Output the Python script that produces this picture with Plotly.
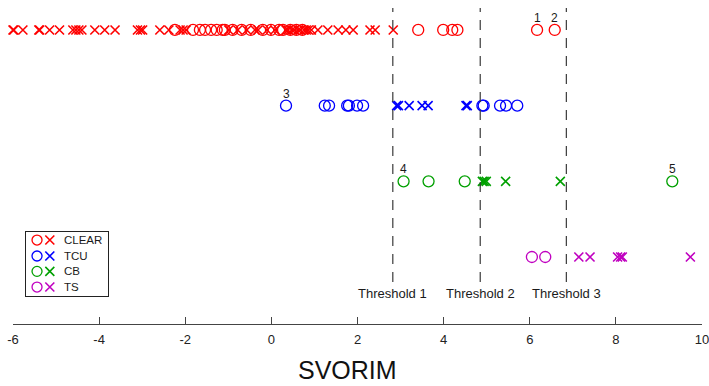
import plotly.graph_objects as go

# SVORIM scores per class: circles = correctly ranked, crosses = misranked
classes = ["CLEAR", "TCU", "CB", "TS"]
row_y = [4, 3, 2, 1]
colors = ["#ff0000", "#0000ff", "#00a000", "#c000c0"]

clear_o = [-2.24, -1.82, -1.66, -1.54, -1.40, -1.27, -1.13, -1.08, -0.90, -0.69,
           -0.48, -0.20, -0.01, 0.18, 0.27, 0.44, 0.58, 0.72,
           3.41, 3.99, 4.20, 4.32, 6.17, 6.58]
clear_x = [-6.00, -5.98, -5.77, -5.40, -5.38, -5.15, -4.92, -4.61, -4.54, -4.47,
           -4.40, -4.10, -3.87, -3.63, -3.11, -3.04, -2.99, -2.59, -2.38, -2.12,
           -2.05, -1.98, -0.99, -0.78, -0.57, -0.38, -0.31, -0.10, 0.08, 0.34,
           0.39, 0.48, 0.53, 0.62, 0.67, 0.76, 0.81, 0.86, 0.93, 1.08, 1.31,
           1.55, 1.73, 1.90, 2.29, 2.41, 2.83]
tcu_o = [0.34, 1.24, 1.34, 1.76, 1.80, 1.99, 2.13, 4.90, 4.93, 5.31, 5.45, 5.71]
tcu_x = [2.91, 2.95, 3.20, 3.50, 3.64, 4.52, 4.55]
cb_o = [3.07, 3.65, 4.49, 9.31]
cb_x = [4.90, 4.94, 4.99, 5.44, 6.71]
ts_o = [6.05, 6.36]
ts_x = [7.14, 7.40, 8.04, 8.11, 8.15, 9.73]

circles = [clear_o, tcu_o, cb_o, ts_o]
crosses = [clear_x, tcu_x, cb_x, ts_x]

thresholds = [2.82, 4.85, 6.85]
threshold_names = ["Threshold 1", "Threshold 2", "Threshold 3"]

# numbered points: (label, class index, score)
numbered = [("1", 0, 6.17), ("2", 0, 6.58), ("3", 1, 0.34), ("4", 2, 3.07), ("5", 2, 9.31)]

x_ticks = [-6, -4, -2, 0, 2, 4, 6, 8, 10]

FONT = "Liberation Sans, Arial, sans-serif"

fig = go.Figure()

for name, y, c, xs_o, xs_x in zip(classes, row_y, colors, circles, crosses):
    fig.add_trace(go.Scatter(x=xs_o, y=[y] * len(xs_o), mode="markers", name=name,
                             marker=dict(color=c, symbol="circle-open", size=11,
                                         line=dict(width=1.3, color=c)),
                             cliponaxis=False, showlegend=False, hoverinfo="x"))
    fig.add_trace(go.Scatter(x=xs_x, y=[y] * len(xs_x), mode="markers", name=name,
                             marker=dict(color=c, symbol="x-thin-open", size=9,
                                         line=dict(width=1.6, color=c)),
                             cliponaxis=False, showlegend=False, hoverinfo="x"))

# threshold lines and labels
for t, tn in zip(thresholds, threshold_names):
    fig.add_shape(type="line", xref="x", yref="paper", x0=t, x1=t, y0=0.133, y1=1.0,
                  line=dict(color="#3a3a3a", width=1.2, dash="10px,8px"))
    fig.add_annotation(x=t, xref="x", y=0.098, yref="paper", text=tn, showarrow=False,
                       font=dict(family=FONT, size=13, color="#1a1a1a"), yanchor="middle")

# number labels above selected points
for lab, ci, xv in numbered:
    fig.add_annotation(x=xv, y=row_y[ci], xref="x", yref="y", text=lab, showarrow=False,
                       yshift=12, font=dict(family=FONT, size=12, color="#1a1a1a"))

# legend key drawn on its own small axes
leg_rows = [0.875, 0.625, 0.385, 0.14]
for name, c, ly in zip(classes, colors, leg_rows):
    fig.add_trace(go.Scatter(x=[0.134], y=[ly], xaxis="x2", yaxis="y2", mode="markers",
                             marker=dict(color=c, symbol="circle-open", size=10,
                                         line=dict(width=1.3, color=c)),
                             showlegend=False, hoverinfo="skip"))
    fig.add_trace(go.Scatter(x=[0.29], y=[ly], xaxis="x2", yaxis="y2", mode="markers",
                             marker=dict(color=c, symbol="x-thin-open", size=9,
                                         line=dict(width=1.6, color=c)),
                             showlegend=False, hoverinfo="skip"))
    fig.add_annotation(x=0.44, y=ly, xref="x2", yref="y2", text=name, showarrow=False,
                       xanchor="left", yanchor="middle",
                       font=dict(family=FONT, size=11.5, color="#1a1a1a"))

# axis title
fig.add_annotation(x=0.485, y=0, xref="paper", yref="paper", text="SVORIM",
                   showarrow=False, xanchor="center", yanchor="bottom", yshift=-62,
                   font=dict(family=FONT, size=25, color="#111"))

fig.update_layout(
    width=709, height=386,
    margin=dict(l=13, r=7, t=8, b=62, autoexpand=False),
    paper_bgcolor="white", plot_bgcolor="white",
    showlegend=False,
    xaxis=dict(range=[-6, 10], tickvals=x_ticks, ticktext=[str(v) for v in x_ticks],
               ticks="inside", ticklen=7, tickcolor="#444", tickwidth=1,
               showline=True, linecolor="#444", linewidth=1,
               showgrid=False, zeroline=False, ticklabelstandoff=3,
               ticklabeloverflow="allow", automargin=False,
               tickfont=dict(family=FONT, size=13, color="#222")),
    yaxis=dict(range=[0.115, 4.29], visible=False, automargin=False),
    xaxis2=dict(domain=[0.0189, 0.138], range=[0, 1], anchor="y2",
                showline=True, mirror=True, linecolor="#222", linewidth=1,
                showticklabels=False, ticks="", showgrid=False, zeroline=False),
    yaxis2=dict(domain=[0.0886, 0.291], range=[0, 1], anchor="x2",
                showline=True, mirror=True, linecolor="#222", linewidth=1,
                showticklabels=False, ticks="", showgrid=False, zeroline=False),
)

fig.write_html("out.html")
